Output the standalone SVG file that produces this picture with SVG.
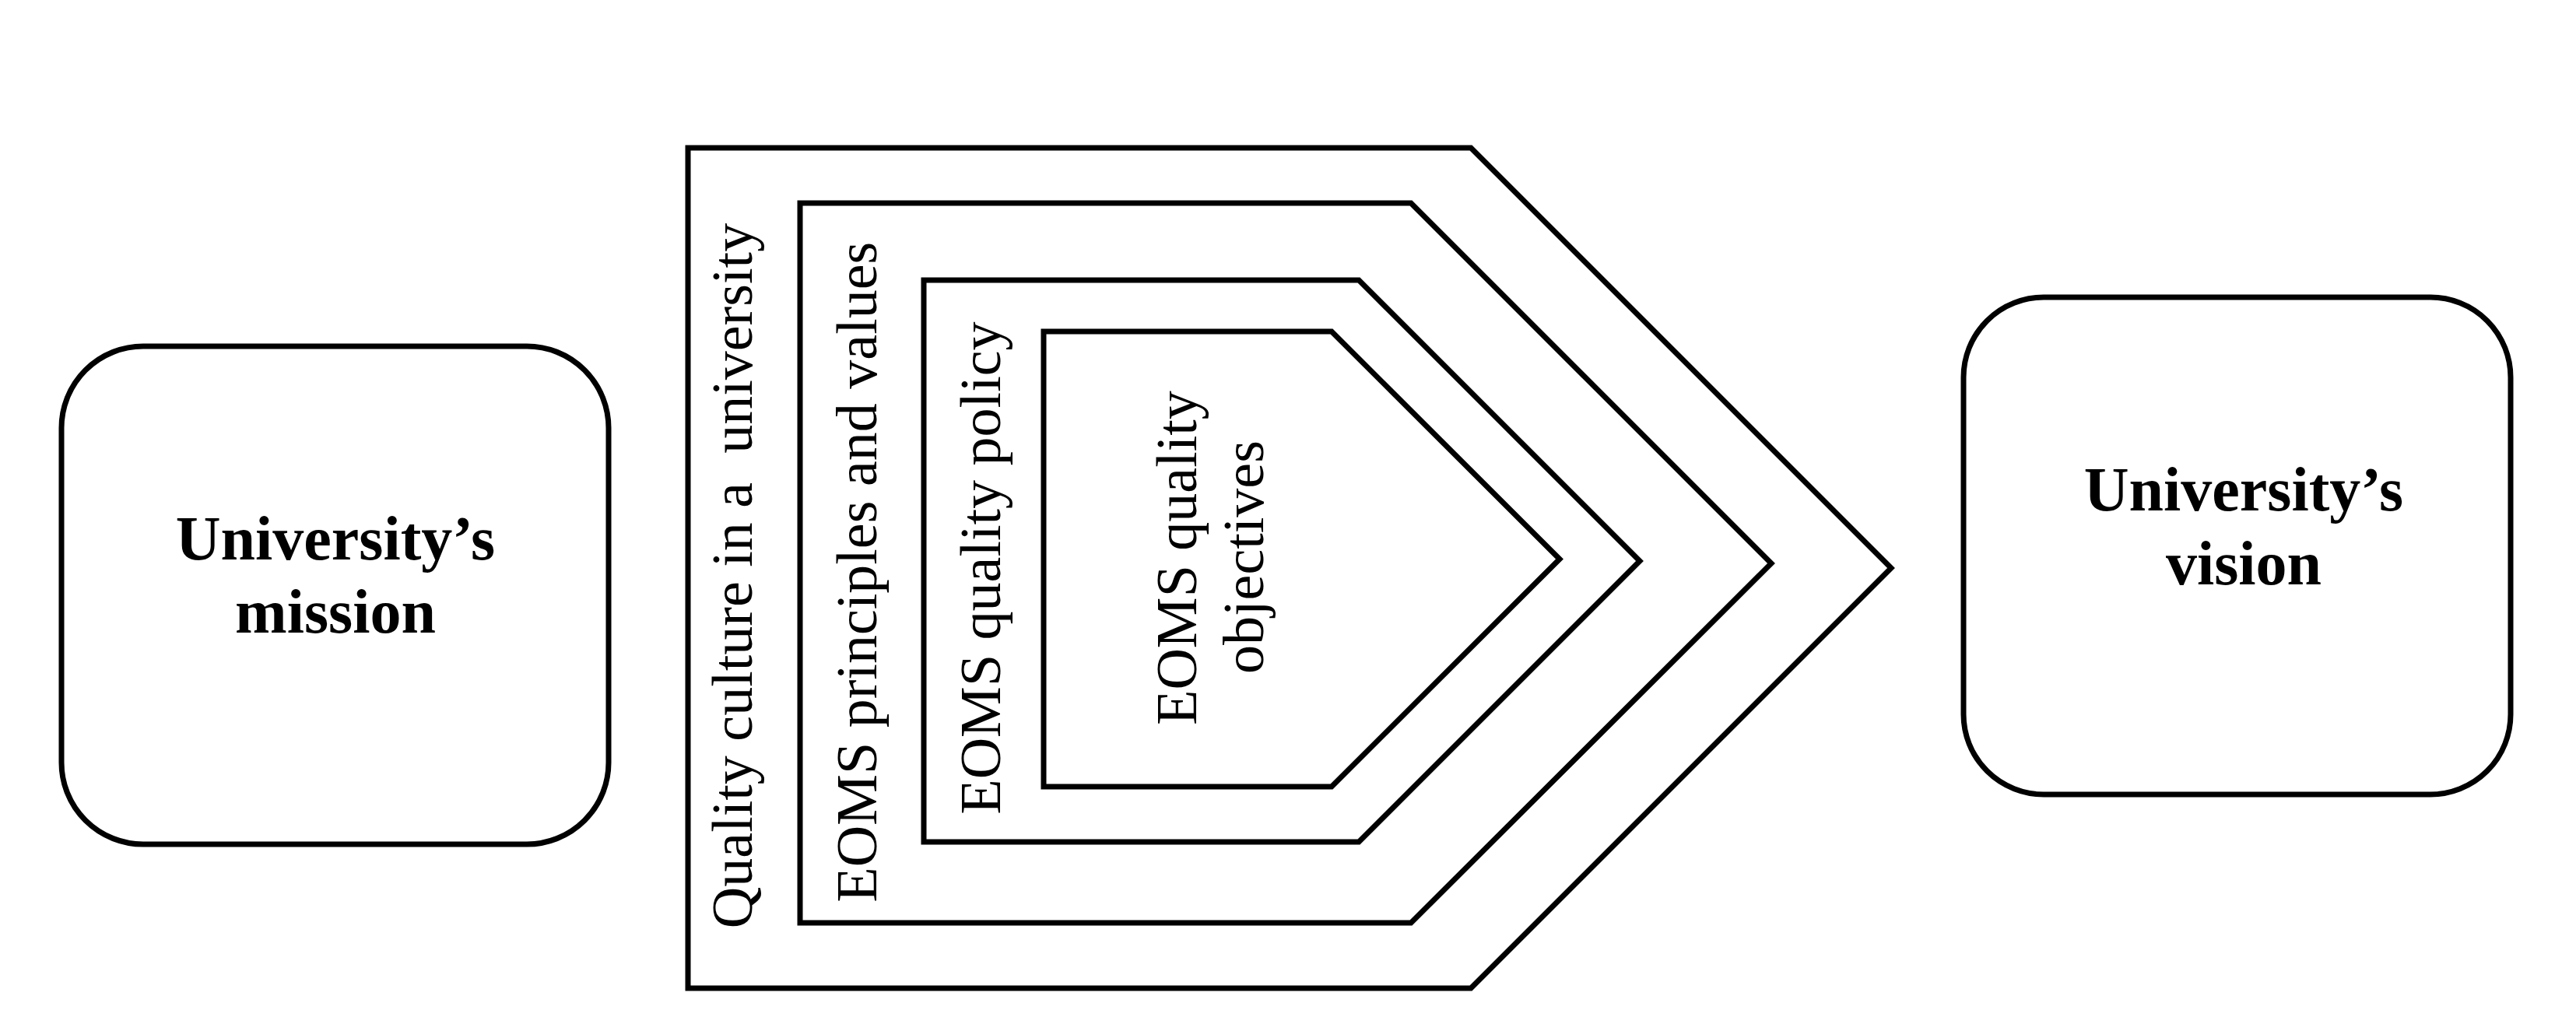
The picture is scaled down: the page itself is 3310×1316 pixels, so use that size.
<svg xmlns="http://www.w3.org/2000/svg" width="3310" height="1316" viewBox="0 0 3310 1316">
<style>
.shape{fill:#fff;stroke:#000;stroke-width:7;stroke-linejoin:miter}
.bold{font-family:"Liberation Serif","Times New Roman",serif;font-weight:bold;font-size:80px;fill:#000;text-anchor:middle}
.lbl{font-family:"Liberation Serif","Times New Roman",serif;font-size:74px;fill:#000;text-anchor:middle}
</style>
<rect width="3310" height="1316" fill="#fff"/>
<g id="mission">
<rect class="shape" x="79" y="445" width="703" height="640" rx="105" ry="105"/>
<text class="bold" x="431" y="719">University’s</text>
<text class="bold" x="431" y="813">mission</text>
</g>
<g id="quality-culture">
<polygon class="shape" points="884,190 1890,190 2430,730 1890,1270 884,1270"/>
<text class="lbl" transform="translate(966,740) rotate(-90)" xml:space="preserve">Quality culture in a  university</text>
</g>
<g id="principles">
<polygon class="shape" points="1028,261 1813,261 2276,724 1813,1186 1028,1186"/>
<text class="lbl" transform="translate(1126,735) rotate(-90)">EOMS principles and values</text>
</g>
<g id="policy">
<polygon class="shape" points="1187,360 1746,360 2107,721 1746,1082 1187,1082"/>
<text class="lbl" transform="translate(1285,730) rotate(-90)">EOMS quality policy</text>
</g>
<g id="objectives">
<polygon class="shape" points="1341,426 1711,426 2004,718.5 1711,1011 1341,1011"/>
<text class="lbl" transform="translate(1537,717) rotate(-90)">EOMS quality</text>
<text class="lbl" transform="translate(1623,716) rotate(-90)">objectives</text>
</g>
<g id="vision">
<rect class="shape" x="2523" y="382" width="703" height="639" rx="103" ry="103"/>
<text class="bold" x="2883" y="656">University’s</text>
<text class="bold" x="2883" y="751">vision</text>
</g>
<g id="connectors"></g>
</svg>
